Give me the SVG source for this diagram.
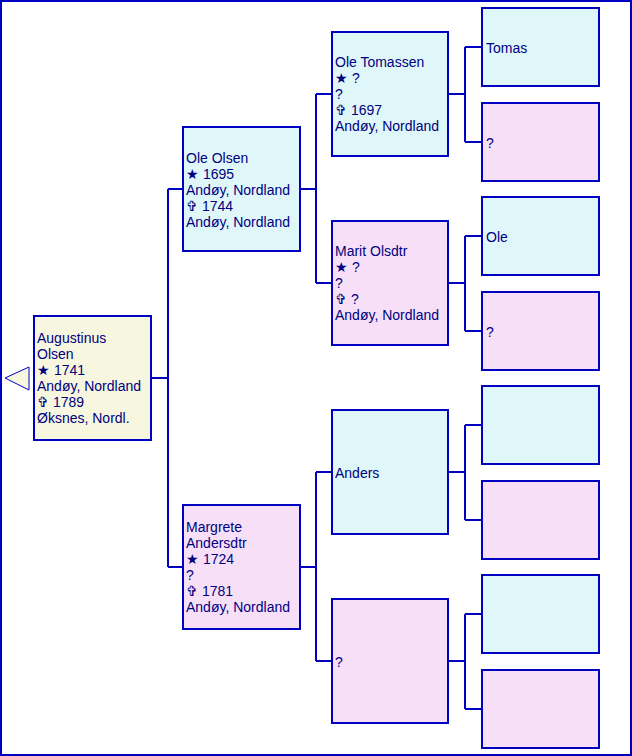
<svg xmlns="http://www.w3.org/2000/svg" width="632" height="756" viewBox="0 0 632 756">
<style>
.b{stroke:#0000C0;stroke-width:2}
.m{fill:#DFF7F9}
.f{fill:#F7E0F7}
.r{fill:#F7F7E0}
text{font-family:"Liberation Sans",Arial,sans-serif;font-size:14px;fill:#000080;transform:translate(0px,1px)}
.c path{fill:none;stroke:#0000C0;stroke-width:2}
</style>
<rect x="1" y="1" width="630" height="754" fill="#FFFFFF" stroke="#0000C0" stroke-width="2"/>
<g class="c" id="connectors">
<path d="M151,378H168M168,189V567M168,189H183M168,567H183"/>
<path d="M300,189H316M316,94V283M316,94H332M316,283H332"/>
<path d="M300,567H316M316,472V661M316,472H332M316,661H332"/>
<path d="M448,94H465M465,47V142M465,47H482M465,142H482"/>
<path d="M448,283H465M465,236V331M465,236H482M465,331H482"/>
<path d="M448,472H465M465,425V520M465,425H482M465,520H482"/>
<path d="M448,661H465M465,614V709M465,614H482M465,709H482"/>
</g>
<g id="back-arrow">
<polygon points="5,378 29,367 29,390" fill="#F7F7E0" stroke="#0000C0" stroke-width="1"/>
</g>
<g id="augustinus">
<rect class="b r" x="34" y="316" width="117" height="124"/>
<text x="37" y="342">Augustinus</text>
<text x="37" y="358">Olsen</text>
<text x="37" y="374">★ 1741</text>
<text x="37" y="390">Andøy, Nordland</text>
<text x="37" y="406">✞ 1789</text>
<text x="37" y="422">Øksnes, Nordl.</text>
</g>
<g id="ole-olsen">
<rect class="b m" x="183" y="127" width="117" height="124"/>
<text x="186" y="162">Ole Olsen</text>
<text x="186" y="178">★ 1695</text>
<text x="186" y="194">Andøy, Nordland</text>
<text x="186" y="210">✞ 1744</text>
<text x="186" y="226">Andøy, Nordland</text>
</g>
<g id="margrete">
<rect class="b f" x="183" y="505" width="117" height="124"/>
<text x="186" y="531">Margrete</text>
<text x="186" y="547">Andersdtr</text>
<text x="186" y="563">★ 1724</text>
<text x="186" y="579">?</text>
<text x="186" y="595">✞ 1781</text>
<text x="186" y="611">Andøy, Nordland</text>
</g>
<g id="ole-tomassen">
<rect class="b m" x="332" y="32" width="116" height="124"/>
<text x="335" y="66">Ole Tomassen</text>
<text x="335" y="82">★ ?</text>
<text x="335" y="98">?</text>
<text x="335" y="114">✞ 1697</text>
<text x="335" y="130">Andøy, Nordland</text>
</g>
<g id="marit">
<rect class="b f" x="332" y="221" width="116" height="124"/>
<text x="335" y="255">Marit Olsdtr</text>
<text x="335" y="271">★ ?</text>
<text x="335" y="287">?</text>
<text x="335" y="303">✞ ?</text>
<text x="335" y="319">Andøy, Nordland</text>
</g>
<g id="anders">
<rect class="b m" x="332" y="410" width="116" height="124"/>
<text x="335" y="477">Anders</text>
</g>
<g id="unknown-mother">
<rect class="b f" x="332" y="599" width="116" height="124"/>
<text x="335" y="666">?</text>
</g>
<g id="tomas">
<rect class="b m" x="482" y="8" width="117" height="78"/>
<text x="486" y="52">Tomas</text>
</g>
<g id="gg-2">
<rect class="b f" x="482" y="103" width="117" height="78"/>
<text x="486" y="147">?</text>
</g>
<g id="ole">
<rect class="b m" x="482" y="197" width="117" height="78"/>
<text x="486" y="241">Ole</text>
</g>
<g id="gg-4">
<rect class="b f" x="482" y="292" width="117" height="78"/>
<text x="486" y="336">?</text>
</g>
<g id="gg-5">
<rect class="b m" x="482" y="386" width="117" height="78"/>
</g>
<g id="gg-6">
<rect class="b f" x="482" y="481" width="117" height="78"/>
</g>
<g id="gg-7">
<rect class="b m" x="482" y="575" width="117" height="78"/>
</g>
<g id="gg-8">
<rect class="b f" x="482" y="670" width="117" height="78"/>
</g>
</svg>
